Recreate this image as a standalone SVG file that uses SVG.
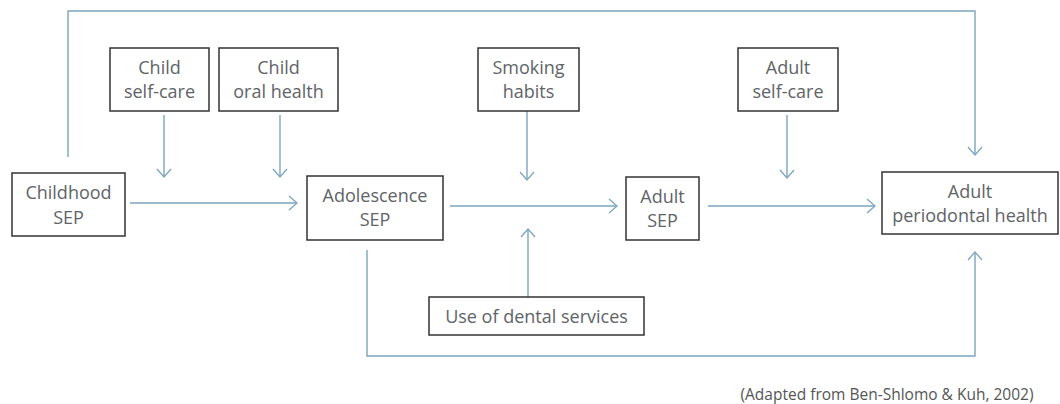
<svg xmlns="http://www.w3.org/2000/svg" width="1060" height="404" viewBox="0 0 1060 404">
<defs>
<marker id="arr" viewBox="0 0 10 16" refX="9" refY="8" markerWidth="10" markerHeight="16" markerUnits="userSpaceOnUse" orient="auto">
<path d="M1,1 L9,8 L1,15" fill="none" stroke="#7da5bf" stroke-width="1.3"/>
</marker>
<style>
.box{fill:#fff;stroke:#333;stroke-width:1.5}
.t{font-family:"Open Sans","Liberation Sans",sans-serif;font-size:18px;fill:#606468;text-anchor:middle}
.c{fill:none;stroke:#7da5bf;stroke-width:1.4;marker-end:url(#arr)}
.cite{font-family:"Open Sans","Liberation Sans",sans-serif;font-size:15.5px;fill:#555;text-anchor:middle}
</style>
</defs>
<rect width="1060" height="404" fill="#fff"/>
<g id="connectors">
<path class="c" d="M68,157 V11 H975 V155"/>
<path class="c" d="M164,115 V177"/>
<path class="c" d="M280,115 V177"/>
<path class="c" d="M130,203 H297"/>
<path class="c" d="M527,111 V180"/>
<path class="c" d="M450,206 H617"/>
<path class="c" d="M528,297 V229"/>
<path class="c" d="M708,206 H875"/>
<path class="c" d="M787,115 V178"/>
<path class="c" d="M367,250 V356 H975 V252"/>
</g>
<g id="childhood-sep"><rect class="box" x="12" y="173" width="113" height="63"/><text class="t" x="68.5" y="199">Childhood</text><text class="t" x="68.5" y="224">SEP</text></g>
<g id="child-self-care"><rect class="box" x="110" y="48" width="99" height="63"/><text class="t" x="159.5" y="74">Child</text><text class="t" x="159.5" y="98">self-care</text></g>
<g id="child-oral-health"><rect class="box" x="219" y="48" width="119" height="63"/><text class="t" x="278.5" y="74">Child</text><text class="t" x="278.5" y="98">oral health</text></g>
<g id="adolescence-sep"><rect class="box" x="307" y="176" width="136" height="64"/><text class="t" x="375" y="202">Adolescence</text><text class="t" x="375" y="226">SEP</text></g>
<g id="smoking-habits"><rect class="box" x="478" y="48" width="101" height="63"/><text class="t" x="528.5" y="74">Smoking</text><text class="t" x="528.5" y="98">habits</text></g>
<g id="adult-sep"><rect class="box" x="626" y="177" width="73" height="63"/><text class="t" x="662.5" y="203">Adult</text><text class="t" x="662.5" y="227">SEP</text></g>
<g id="adult-self-care"><rect class="box" x="738" y="48" width="100" height="63"/><text class="t" x="788" y="74">Adult</text><text class="t" x="788" y="98">self-care</text></g>
<g id="adult-periodontal-health"><rect class="box" x="882" y="172" width="176" height="62"/><text class="t" x="970" y="198">Adult</text><text class="t" x="970" y="222">periodontal health</text></g>
<g id="use-of-dental-services"><rect class="box" x="429" y="297" width="215" height="38"/><text class="t" x="536.5" y="323">Use of dental services</text></g>
<text class="cite" x="887" y="400">(Adapted from Ben-Shlomo &amp; Kuh, 2002)</text>
</svg>
